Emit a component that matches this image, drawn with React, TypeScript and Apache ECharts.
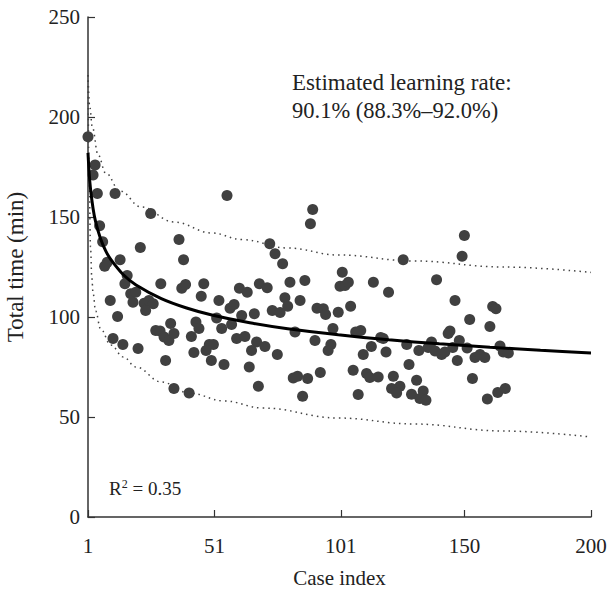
import React, { useEffect, useRef } from "react";
import * as echarts from "echarts";

const caseIndex = [
  1, 3.8, 3, 4.7, 11.7, 25.8, 5.6, 6.8, 21.7, 8.6, 7.6, 13.7, 16.5, 15.6, 29.8, 17.9, 19.9, 18.8, 23.2, 25.1,
  26.8, 23.8, 9.8, 12.7, 33.7, 27.8, 29.5, 31.1, 33, 10.9, 14.8, 20.8, 31.7, 35,
  56, 37, 38.8, 38.1, 39.6, 46.8, 45.8, 52.8, 57.2, 58.8, 60.9, 64, 68.8, 61.8, 66.8, 35, 43.7, 44.9, 51.9, 53.9,
  57.8, 41.9, 59.8, 63.1, 67.7, 49, 50.6, 47.7, 42.9, 65.7, 49.8, 54.8, 64.8, 68.4, 41,
  89.9, 89, 72.9, 75, 78, 71.9, 80.9, 86.8, 101.6, 100.7, 102.7, 78.9, 84.9, 80, 73.9, 77, 91.6, 94.1, 95, 100,
  97.9, 82.9, 90.8, 97.1, 96, 71, 75.9, 82.2, 83.9, 87.9, 92.9, 85.9,
  125.7, 104, 113.9, 119.9, 104.9, 106.9, 108.9, 116.8, 117.8, 113.1, 109.9, 118.9, 127.1, 131.9, 135.6, 128,
  105.9, 111.2, 112.5, 115.8, 121.8, 131, 121.1, 124.4, 123.1, 129, 133.6, 132.3, 134.7, 107.9,
  138.9, 146.2, 149.9, 149, 152, 161.1, 162.4, 160, 143.5, 144.2, 147.9, 136.9, 138.3, 140.9, 142.2, 145.3, 151,
  147.1, 154.1, 156.1, 158, 164, 165.3, 167.3, 153.1, 159, 163.1, 166.1,
];
const totalTime = [
  190.1, 176, 171, 161.8, 161.8, 151.7, 145.6, 137.6, 134.7, 127.4, 125.4, 128.6, 120.8, 116.6, 116.6, 111.6, 112.4, 107.4, 106.9, 108.3,
  106.6, 103.3, 108.3, 100.3, 96.7, 93.3, 93, 90, 88.3, 89.2, 86.2, 84.2, 78.3, 64.2,
  160.7, 138.7, 128.6, 114.4, 116.3, 116.6, 110.4, 108.3, 104.4, 106.3, 114.4, 112.4, 116.6, 100.8, 101.6, 91.7, 97.5, 94.2, 99.5, 94.2,
  96.3, 90.3, 89.2, 90.3, 87.5, 86.3, 86.2, 83.3, 82.2, 83.3, 78.3, 76.2, 75, 65.4, 62,
  153.7, 146.6, 136.6, 131.6, 126.6, 114.6, 117.4, 118.3, 122.4, 115.4, 115.8, 109.6, 108.3, 105.4, 103.3, 102.3, 104.4, 104.1, 101.3, 102.4,
  94.3, 92.5, 88.3, 86.3, 83.3, 85.3, 81.3, 69.5, 70.4, 69.2, 72.2, 60.4,
  128.6, 117.4, 117.4, 112.4, 105.4, 92.5, 93.3, 89.7, 89.2, 85.3, 81.2, 82.5, 86.2, 83.3, 84.7, 76.2,
  73.4, 71.7, 69.7, 70, 70.4, 68.4, 64.2, 65.4, 62, 61.4, 63, 59.2, 58.4, 61.2,
  118.6, 108.3, 140.7, 130.4, 98.7, 105.3, 104.1, 95.3, 91.7, 93, 88.3, 87.5, 83, 81.3, 82.5, 84.7, 84.5,
  78.3, 79.7, 81.3, 79.7, 85.5, 82.5, 82, 69.2, 59, 62.2, 64.2,
];

// fitted learning curve
const fitX = [1, 1.5, 2, 3, 4, 6, 8, 10, 15, 20, 30, 40, 50, 65, 80, 100, 120, 140, 160, 180, 200];
const fitY = [182, 171.2, 164, 154.3, 147.7, 139, 133.1, 128.8, 121.1, 116, 109.2, 104.5, 101, 97.1, 94.1, 91.1, 88.6, 86.6, 84.9, 83.4, 82];

// upper prediction band
const upX = [1, 1.7, 2.7, 5, 8, 13.7, 22, 35, 50, 62, 80, 100, 130, 165, 200];
const upY = [221, 205, 195, 181, 172, 163, 155, 147.5, 142, 138.7, 134.5, 131, 128, 125, 122.3];

// lower prediction band
const loX = [1, 1.5, 2, 2.5, 3, 4, 6, 10, 15, 20, 30, 41, 55, 70, 100, 130, 165, 200];
const loY = [221, 165, 135, 120, 112, 103, 94, 86, 80, 75, 67.5, 62, 58, 54.5, 49.5, 46.5, 43, 40];

const xTicks = [1, 51, 101, 150, 200];

const FONT = "Liberation Serif";

export default function App() {
  const ref = useRef<HTMLDivElement>(null);
  useEffect(() => {
    document.body.style.margin = "0";
    const chart = echarts.init(ref.current!, null, { renderer: "svg" });
    const pts = caseIndex.map((x, i) => [x, totalTime[i]]);
    const fit = fitX.map((x, i) => [x, fitY[i]]);
    const up = upX.map((x, i) => [x, upY[i]]);
    const lo = loX.map((x, i) => [x, loY[i]]);
    chart.setOption({
      animation: false,
      backgroundColor: "#ffffff",
      grid: { left: 88, right: 19, top: 17, bottom: 75, containLabel: false, outerBoundsMode: "none" },
      xAxis: {
        type: "value",
        min: 1,
        max: 200,
        name: "Case index",
        nameLocation: "middle",
        nameGap: 50,
        nameTextStyle: { fontFamily: FONT, fontSize: 21, color: "#222" },
        axisLine: { show: true, lineStyle: { color: "#333", width: 1.5 } },
        axisTick: { show: true, inside: true, length: 7, customValues: xTicks, lineStyle: { color: "#333", width: 1.2 } },
        axisLabel: { customValues: xTicks, margin: 18, fontFamily: FONT, fontSize: 21, color: "#222" },
        splitLine: { show: false },
      },
      yAxis: {
        type: "value",
        min: 0,
        max: 250,
        interval: 50,
        name: "Total time (min)",
        nameLocation: "middle",
        nameGap: 61,
        nameTextStyle: { fontFamily: FONT, fontSize: 23, color: "#222" },
        axisLine: { show: true, lineStyle: { color: "#333", width: 1.5 } },
        axisTick: { show: true, inside: true, length: 7, lineStyle: { color: "#333", width: 1.2 } },
        axisLabel: { margin: 8, fontFamily: FONT, fontSize: 21, color: "#222" },
        splitLine: { show: false },
      },
      series: [
        {
          type: "line",
          data: up,
          smooth: 0.4,
          smoothMonotone: "x",
          symbol: "none",
          lineStyle: { color: "#444", width: 1.5, type: [1.5, 4] },
          z: 1,
        },
        {
          type: "line",
          data: lo,
          smooth: 0.4,
          smoothMonotone: "x",
          symbol: "none",
          lineStyle: { color: "#444", width: 1.5, type: [1.5, 4] },
          z: 1,
        },
        {
          type: "scatter",
          data: pts,
          symbol: "circle",
          symbolSize: 11,
          itemStyle: { color: "#404040", opacity: 1 },
          z: 2,
        },
        {
          type: "line",
          data: fit,
          smooth: 0.3,
          symbol: "none",
          lineStyle: { color: "#000", width: 3 },
          z: 3,
        },
      ],
      graphic: [
        {
          type: "text",
          left: 292,
          top: 71,
          style: {
            text: "Estimated learning rate:",
            fontFamily: FONT,
            fontSize: 23,
            fill: "#222",
          },
        },
        {
          type: "text",
          left: 292,
          top: 99,
          style: {
            text: "90.1% (88.3%–92.0%)",
            fontFamily: FONT,
            fontSize: 22.5,
            fill: "#222",
          },
        },
        {
          type: "text",
          left: 109,
          top: 478,
          style: {
            text: "{r|R}{s|2}{r| = 0.35}",
            rich: {
              r: { fontFamily: FONT, fontSize: 19, fill: "#222", verticalAlign: "bottom" },
              s: { fontFamily: FONT, fontSize: 12, fill: "#222", verticalAlign: "top", padding: [0, 0, 8, 0] },
            },
          },
        },
      ],
    });
    return () => chart.dispose();
  }, []);
  return <div ref={ref} style={{ width: 610, height: 592 }} />;
}
